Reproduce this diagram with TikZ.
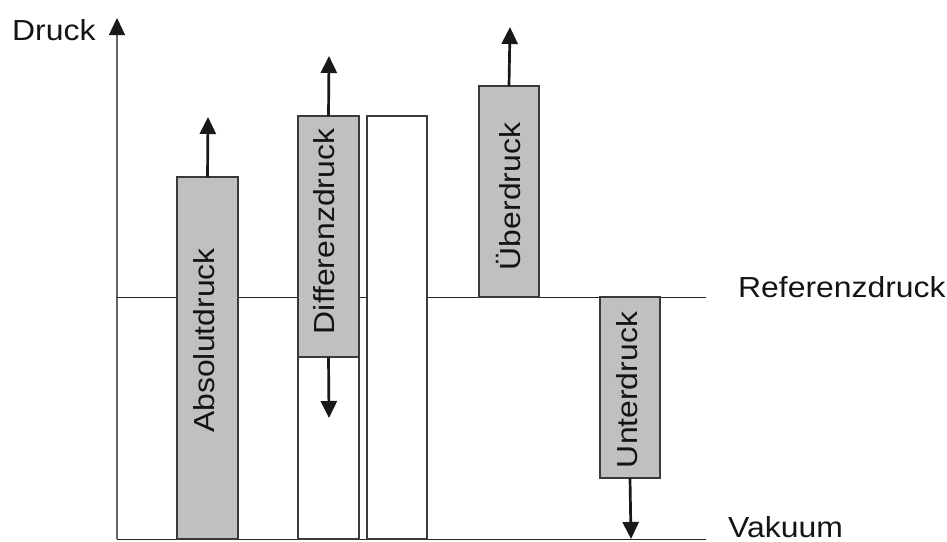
\documentclass[tikz,border=0pt]{standalone}
\usepackage{fontspec}
\setmainfont[FakeStretch=1.1]{Liberation Sans}
\usetikzlibrary{arrows.meta}
\definecolor{barfill}{HTML}{C0C0C0}
\definecolor{edge}{HTML}{3A3A3A}
\begin{document}
\begin{tikzpicture}[x=1pt,y=-1pt,
  lab/.style={inner sep=0pt,font=\fontsize{29}{34}\selectfont,text=black!92},
  rlab/.style={lab,rotate=90},
  bar/.style={draw=edge,line width=1.1pt,fill=barfill,inner sep=0pt,outer sep=0pt,anchor=north west},
  wbar/.style={bar,fill=white},
  parrow/.style={line width=2.7pt,draw=black!90,-{Triangle[length=17pt,width=16pt]}},
  baseline/.style={line width=1pt,draw=black!85}]
\useasboundingbox (0,0) rectangle (947,541);
% axis and reference lines
\coordinate (ax0) at (117,539);
\coordinate (axtop) at (117,18);
\coordinate (ref0) at (117,297);
\coordinate (ref1) at (706,297);
\coordinate (vak1) at (706,539);
\draw[line width=1.2pt,draw=black!60,-{Triangle[length=17pt,width=16pt,color=black!90]}] (ax0) -- (axtop);
\draw[baseline] (ref0) -- (ref1);
\draw[baseline] (ax0) -- (vak1);
% bars
\node[bar,minimum width=61pt,minimum height=362pt] (abs) at (177,177) {};
\node[bar,minimum width=61pt,minimum height=241pt] (diff) at (298,116) {};
\node[wbar,minimum width=61pt,minimum height=182pt] (difflow) at (298,357) {};
\node[wbar,minimum width=60pt,minimum height=423pt] (white) at (367,116) {};
\node[bar,minimum width=60pt,minimum height=211pt] (ueber) at (479,86) {};
\node[bar,minimum width=60pt,minimum height=181pt] (unter) at (600,297) {};
% arrow end points
\coordinate (absup) at (208,117);
\coordinate (diffup) at (329,56);
\coordinate (diffdown) at (329,418);
\coordinate (ueberup) at (510,27);
\coordinate (unterdown) at (631,539);
\draw[parrow] (abs.north) -- (absup);
\draw[parrow] (diff.north) -- (diffup);
\draw[parrow] (diff.south) -- (diffdown);
\draw[parrow] (ueber.north) -- (ueberup);
\draw[parrow] (unter.south) -- (unterdown);
% rotated labels
\node[rlab] (tabs) at (204,340.5) {Absolutdruck};
\node[rlab] (tdiff) at (324,231.5) {Differenzdruck};
\node[rlab] (tueber) at (508.5,196.5) {Überdruck};
\node[rlab] (tunter) at (627.5,390) {Unterdruck};
% horizontal labels
\node[lab,anchor=base west] (druck) at (12,40) {Druck};
\node[lab,anchor=base west] (ref) at (738,297) {Referenzdruck};
\node[lab,anchor=base west] (vak) at (728,537) {Vakuum};
\end{tikzpicture}
\end{document}
